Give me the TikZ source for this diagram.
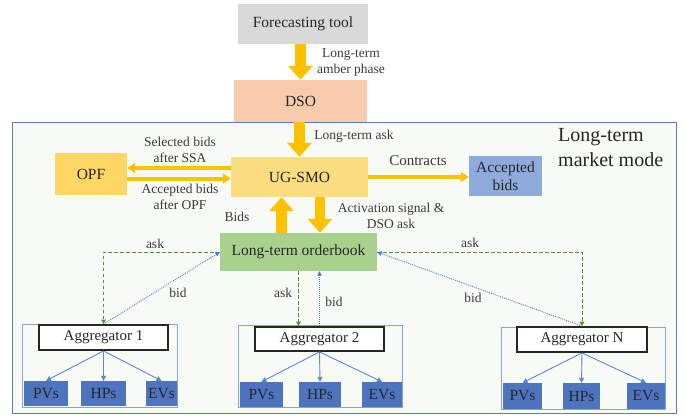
\documentclass[tikz,border=0pt]{standalone}
\usepackage{fontspec}
\setmainfont{Liberation Serif}
\newfontfamily\tnr{Liberation Serif}
\usetikzlibrary{arrows.meta}
\definecolor{fcgray}{HTML}{D9D9D9}
\definecolor{dsofill}{HTML}{F8CBAD}
\definecolor{ugfill}{HTML}{FADD80}
\definecolor{opffill}{HTML}{FDD663}
\definecolor{accfill}{HTML}{8FAADC}
\definecolor{obfill}{HTML}{A9D18E}
\definecolor{arrowyellow}{HTML}{FFC000}
\definecolor{framefill}{HTML}{F8FAF5}
\definecolor{framecol}{HTML}{5B7BBF}
\definecolor{aggframe}{HTML}{86A3DA}
\definecolor{devfill}{HTML}{4E74C0}
\definecolor{boxtext}{HTML}{262626}
\definecolor{lbltext}{HTML}{3A3A3A}
\definecolor{askgreen}{HTML}{5E8A3A}
\definecolor{bidblue}{HTML}{4A78D0}
\definecolor{subblue}{HTML}{5B87D0}
\begin{document}
\begin{tikzpicture}[x=1pt,y=-1pt,
  box/.style={inner sep=0pt, text=boxtext, font=\tnr\fontsize{15.5}{18}\selectfont, align=center},
  lbl/.style={inner sep=0pt, text=lbltext, font=\tnr\fontsize{13.5}{16}\selectfont, align=center},
  bigarrow/.style={draw=arrowyellow, line width=10.5pt, -{Triangle[width=24pt,length=14pt]}},
  midarrow/.style={draw=arrowyellow, line width=4pt, -{Triangle[width=10pt,length=8pt]}},
  askline/.style={draw=askgreen, line width=0.9pt, dash pattern=on 3.5pt off 2.5pt, -{Triangle[width=4.5pt,length=4.5pt]}},
  bidline/.style={draw=bidblue, line width=0.9pt, dash pattern=on 0.9pt off 1.1pt, -{Triangle[width=4.5pt,length=4.5pt]}},
  subarrow/.style={draw=subblue, line width=0.9pt, -{Triangle[width=5pt,length=5pt]}},
  outerbox/.style={draw=aggframe, fill=framefill, line width=1pt, inner sep=0pt},
  aggbox/.style={box, draw=boxtext, fill=white, line width=1.8pt, font=\tnr\fontsize{15}{17}\selectfont},
  devbox/.style={box, fill=devfill, minimum height=25pt},
]
\useasboundingbox (0,0) rectangle (685,415);

% outer frame
\node[draw=framecol, fill=framefill, line width=1pt, inner sep=0pt,
      minimum width=663.5pt, minimum height=291pt] (frame) at (344.25,267.5) {};

% top boxes
\node[box, fill=fcgray, minimum width=130pt, minimum height=40pt] (fc) at (303,24) {Forecasting tool};
\node[box, fill=dsofill, minimum width=133pt, minimum height=42pt] (dso) at (300.5,101) {DSO};

% main boxes
\node[box, fill=ugfill, minimum width=137pt, minimum height=40pt] (ug) at (299.5,177) {UG-SMO};
\node[box, fill=opffill, minimum width=72pt, minimum height=42pt] (opf) at (91,174) {OPF};
\node[box, fill=accfill, minimum width=73pt, minimum height=40pt] (acc) at (505.5,176) {Accepted\\bids};
\node[box, fill=obfill, minimum width=157pt, minimum height=38pt] (ob) at (298.5,252) {Long-term orderbook};

\node[inner sep=0pt, text=boxtext, font=\tnr\fontsize{20}{25}\selectfont, align=left, anchor=west]
  (mode) at (558,147.5) {Long-term\\market mode};

% aggregator groups
\node[outerbox, minimum width=155pt, minimum height=83pt] (o1) at (99.5,365.5) {};
\node[outerbox, minimum width=164pt, minimum height=82pt] (o2) at (320,366) {};
\node[outerbox, minimum width=164pt, minimum height=82pt] (oN) at (583,368) {};

\node[aggbox, minimum width=129pt, minimum height=25pt] (a1) at (103.5,337.5) {Aggregator 1};
\node[aggbox, minimum width=129pt, minimum height=24pt] (a2) at (319.5,339) {Aggregator 2};
\node[aggbox, minimum width=130pt, minimum height=25pt] (aN) at (582,339.5) {Aggregator N};

\node[devbox, minimum width=44pt] (p1) at (46,393.5) {PVs};
\node[devbox, minimum width=45pt] (h1) at (103.5,393.5) {HPs};
\node[devbox, minimum width=31pt] (e1) at (161.5,393.5) {EVs};
\node[devbox, minimum width=43pt] (p2) at (261.5,394.5) {PVs};
\node[devbox, minimum width=42pt] (h2) at (320,394.5) {HPs};
\node[devbox, minimum width=40pt] (e2) at (382,394.5) {EVs};
\node[devbox, minimum width=39pt, minimum height=26pt] (pN) at (522.5,396) {PVs};
\node[devbox, minimum width=37pt, minimum height=26pt] (hN) at (581.5,396) {HPs};
\node[devbox, minimum width=38pt, minimum height=26pt] (eN) at (646,396) {EVs};

\foreach \a/\p/\h/\e in {a1/p1/h1/e1, a2/p2/h2/e2, aN/pN/hN/eN}{
  \draw[subarrow] (\a.south) -- (\p.north);
  \draw[subarrow] (\a.south) -- (\h.north);
  \draw[subarrow] (\a.south) -- (\e.north);
}

% thick arrows
\draw[bigarrow] (fc.south -| dso.north) -- (dso.north);
\draw[bigarrow] (dso.south -| ug.north) -- (ug.north);
\draw[bigarrow] ([xshift=-17pt]ob.north) -- ([xshift=-17pt]ob.north |- ug.south);
\draw[bigarrow] ([xshift=21.5pt]ob.north |- ug.south) -- ([xshift=21.5pt]ob.north);

% thin yellow arrows
\draw[midarrow] ([yshift=6pt]opf.east -| ug.west) -- ([yshift=6pt]opf.east);
\draw[midarrow] ([yshift=-4.5pt]opf.east) -- ([yshift=-4.5pt]opf.east -| ug.west);
\draw[midarrow] (ug.east) -- (ug.east -| acc.west);

% ask / bid connectors
\draw[askline] (ob.west) -| (a1.north);
\draw[bidline] (a1.north) -- (ob.west);
\draw[askline] (ob.east) -| (aN.north);
\draw[bidline] (aN.north) -- (ob.east);
\draw[askline] (ob.south) -- (ob.south |- a2.north);
\draw[bidline] (a2.north) -- (a2.north |- ob.south);

% labels
\node[lbl] (lamber) at (351,63) {Long-term\\amber phase};
\node[lbl] (lask) at (354,136) {Long-term ask};
\node[lbl] (lsel) at (180,150) {Selected bids\\after SSA};
\node[lbl] (lacc) at (180,197) {Accepted bids\\after OPF};
\node[lbl, font=\tnr\fontsize{15}{17}\selectfont] (lcon) at (418,161) {Contracts};
\node[lbl] (lbids) at (237,217) {Bids};
\node[lbl] (lact) at (391,215.5) {Activation signal \&\\DSO ask};
\node[lbl] (ask1) at (155,244) {ask};
\node[lbl] (askN) at (470,243) {ask};
\node[lbl] (ask2) at (283,293) {ask};
\node[lbl] (bid1) at (178,293) {bid};
\node[lbl] (bid2) at (334,302) {bid};
\node[lbl] (bidN) at (473,298) {bid};
\end{tikzpicture}
\end{document}
